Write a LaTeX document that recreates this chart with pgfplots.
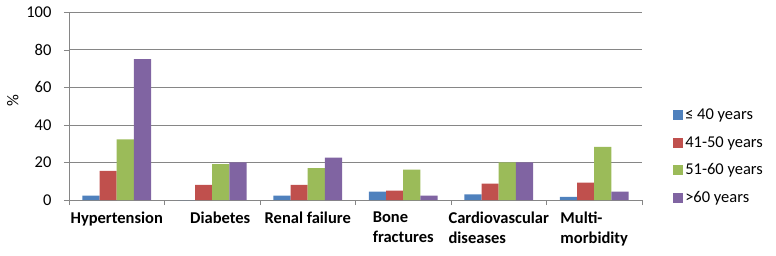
\documentclass[border=0pt]{standalone}
\usepackage{fontspec}
\setmainfont{Carlito}
\usepackage{pgfplots}
\pgfplotsset{compat=1.18}
\definecolor{sBlue}{HTML}{4F81BD}
\definecolor{sRed}{HTML}{C0504D}
\definecolor{sGreen}{HTML}{9BBB59}
\definecolor{sPurple}{HTML}{8064A2}
\definecolor{axgray}{HTML}{868686}
\begin{document}
\begin{tikzpicture}[font=\fontsize{16.5}{19}\selectfont]
\useasboundingbox (0,0) rectangle (776pt,255pt);
\begin{axis}[
  at={(69pt,55pt)}, anchor=south west,
  scale only axis, width=573pt, height=188pt,
  ybar=0pt, bar width=0.18,
  xmin=-0.5, xmax=5.5, ymin=0, ymax=100,
  ytick={0,20,...,100},
  xtick={0,...,5},
  xticklabels={Hypertension, {\hspace*{16pt}Diabetes}, Renal failure, {Bone\\fractures}, {Cardiovascular\\diseases}, {Multi-\\morbidity}},
  xticklabel style={align=left, yshift=-3pt, font=\fontsize{16.5}{20}\selectfont\bfseries},
  yticklabel style={xshift=-9pt},
  minor xtick={-0.5,0.5,...,5.5},
  every major x tick/.append style={draw=none},
  tick align=outside,
  major tick length=5pt, minor tick length=5pt,
  tick style={axgray},
  axis x line*=bottom, axis y line*=left,
  axis line style={axgray,-},
  ymajorgrids, grid style={axgray},
  /pgf/number format/assume math mode=true,
  ylabel={\%},
  ylabel style={at={(axis description cs:-0.098,0.53)}, anchor=center},
  legend style={at={(1.049,0.231)}, anchor=west, draw=none, fill=none,
    row sep=11pt, font=\fontsize{16.5}{19}\selectfont},
  legend cell align=left,
  legend image code/.code={\path[#1,draw=none] (0pt,-5pt) rectangle (10pt,5pt);},
]
\addplot[fill=sBlue, draw=none] coordinates {(0,2.3) (1,0) (2,2.3) (3,4.5) (4,3.0) (5,1.6)};
\addplot[fill=sRed, draw=none] coordinates {(0,15.5) (1,8.0) (2,8.0) (3,5.0) (4,8.7) (5,9.3)};
\addplot[fill=sGreen, draw=none] coordinates {(0,32.3) (1,19.1) (2,16.9) (3,16.2) (4,20.0) (5,28.2)};
\addplot[fill=sPurple, draw=none] coordinates {(0,74.9) (1,20.0) (2,22.6) (3,2.3) (4,20.0) (5,4.5)};
\legend{≤ 40 years, 41-50 years, 51-60 years, >60 years}
\end{axis}
\end{tikzpicture}
\end{document}
